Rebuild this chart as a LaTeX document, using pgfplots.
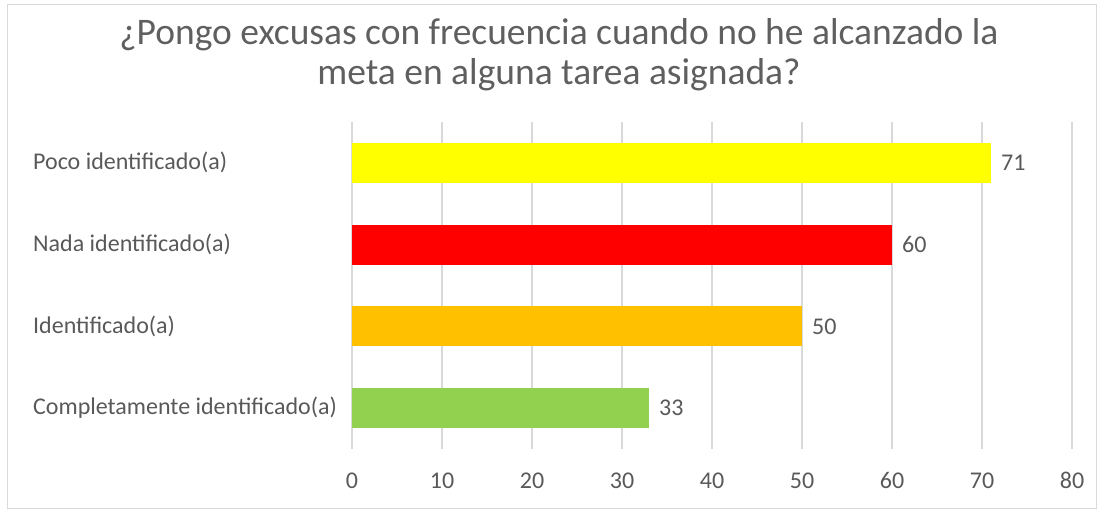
\documentclass[border=0pt]{standalone}
\usepackage{pgfplots}
\pgfplotsset{compat=1.18}
\usepackage{fontspec}
\setmainfont{Carlito}
\definecolor{txt}{HTML}{595959}
\definecolor{ttl}{HTML}{5F5F5F}
\definecolor{gridc}{HTML}{D9D9D9}
\definecolor{bord}{HTML}{D9D9D9}
\definecolor{cyel}{HTML}{FFFF00}
\definecolor{cred}{HTML}{FF0000}
\definecolor{corg}{HTML}{FFC000}
\definecolor{cgrn}{HTML}{92D050}
\begin{document}
\begin{tikzpicture}[x=1pt,y=1pt]
\path[use as bounding box] (0,0) rectangle (1101,514);
\draw[bord, line width=1pt] (7,5) rectangle (1096,509);
\node[ttl, font=\fontsize{37.5}{40}\selectfont, align=center, anchor=base] at (559,429) {¿Pongo excusas con frecuencia cuando no he alcanzado la\\meta en alguna tarea asignada?};
\begin{axis}[
  at={(352pt,65pt)}, anchor=south west,
  scale only axis, width=720pt, height=327pt,
  xbar, bar width=40pt, bar shift=0pt,
  xmin=0, xmax=80, ymin=-0.5, ymax=3.5,
  xtick={0,10,...,80},
  ytick={0,1,2,3},
  yticklabels={Completamente identificado(a), Identificado(a), Nada identificado(a), Poco identificado(a)},
  xmajorgrids, grid style={draw=gridc, line width=1.5pt},
  axis line style={draw=none},
  major tick length=0pt,
  tick label style={txt, font=\fontsize{24}{28}\selectfont},
  /pgf/number format/assume math mode=true,
  xticklabel style={yshift=-20pt},
  yticklabel style={anchor=west, inner sep=0pt, xshift=-319pt},
  nodes near coords,
  nodes near coords style={txt, font=\fontsize{24}{28}\selectfont, anchor=west, inner sep=0pt, xshift=10pt},
]
\addplot[fill=cgrn, draw=none] coordinates {(33,0)};
\addplot[fill=corg, draw=none] coordinates {(50,1)};
\addplot[fill=cred, draw=none] coordinates {(60,2)};
\addplot[fill=cyel, draw=none] coordinates {(71,3)};
\end{axis}
\end{tikzpicture}
\end{document}
